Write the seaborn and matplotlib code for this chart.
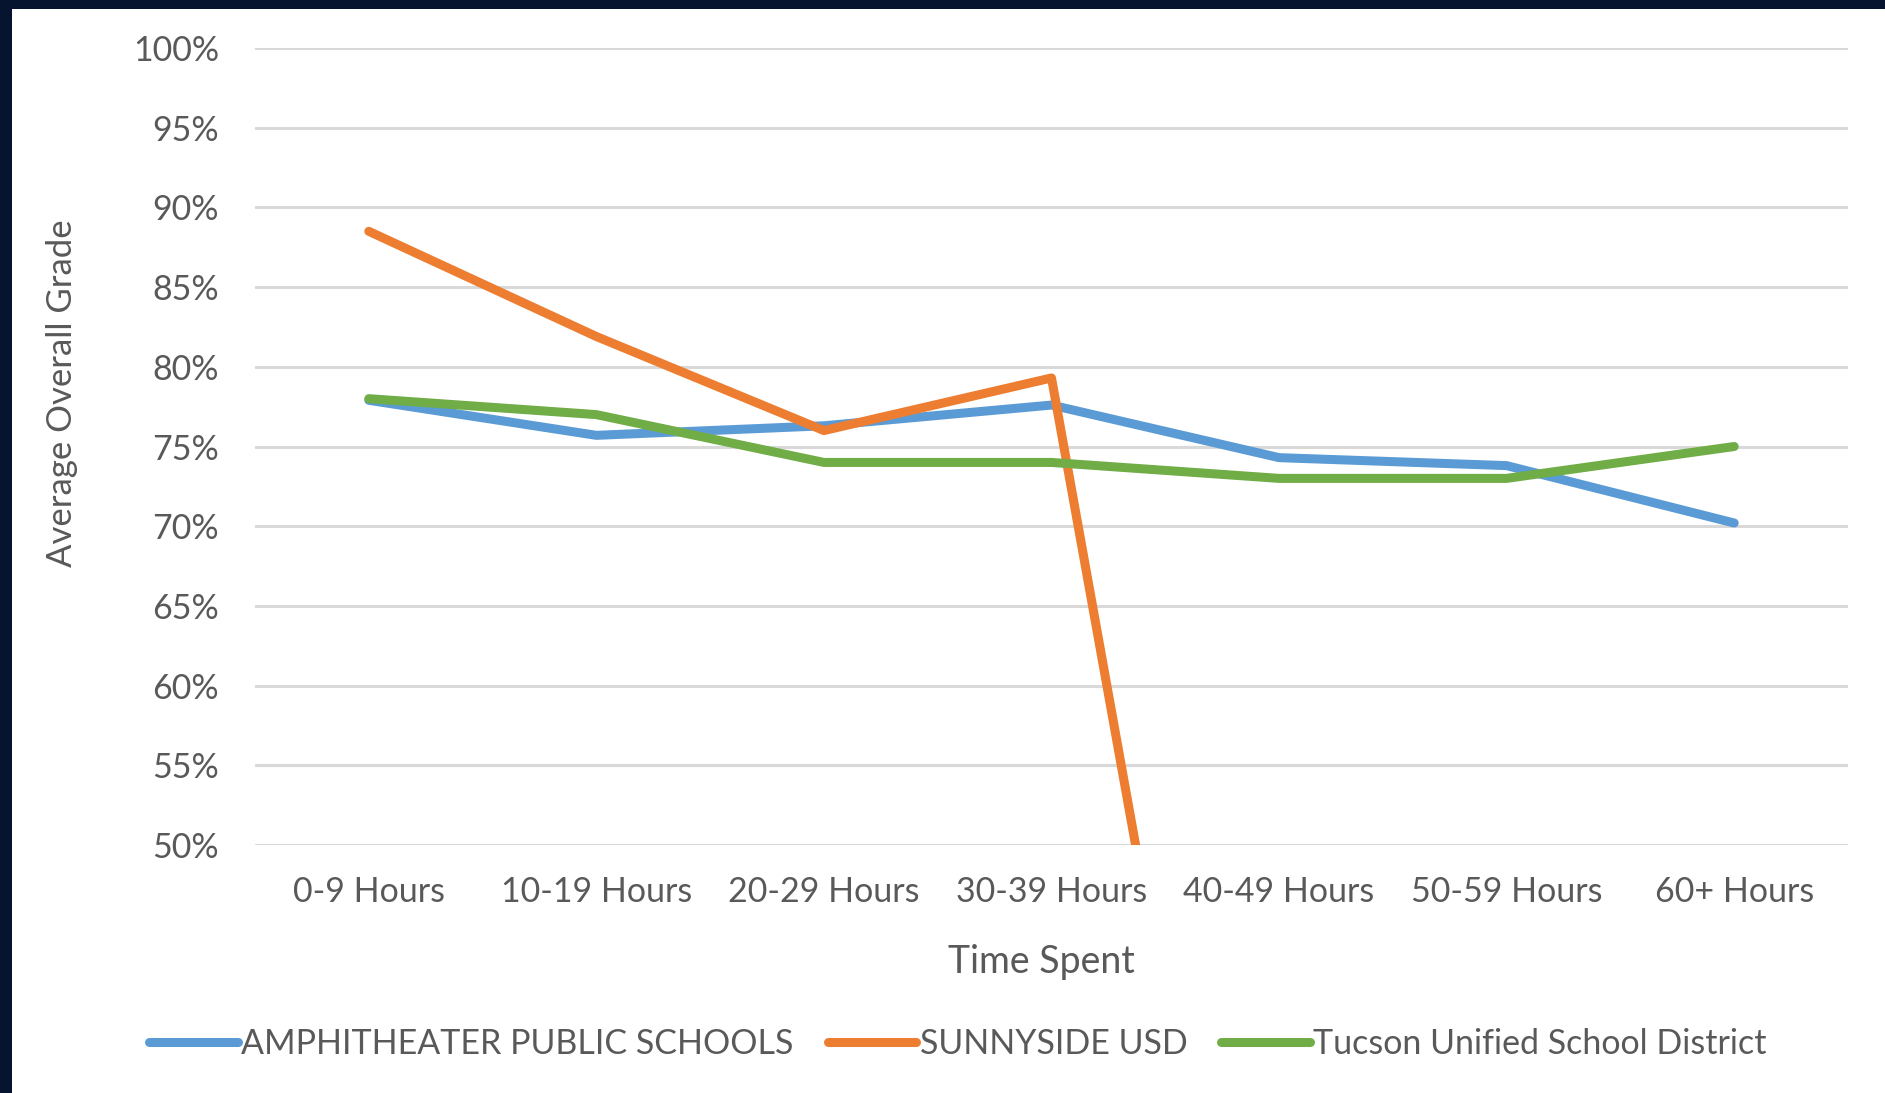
import pandas as pd
import numpy as np
import matplotlib
matplotlib.use("Agg")
import matplotlib.pyplot as plt
from matplotlib.patches import Rectangle
from matplotlib.ticker import PercentFormatter, MultipleLocator
import seaborn as sns

horas = ["0-9 Hours", "10-19 Hours", "20-29 Hours", "30-39 Hours",
         "40-49 Hours", "50-59 Hours", "60+ Hours"]
amphitheater = [77.9, 75.7, 76.3, 77.6, 74.3, 73.8, 70.2]
sunnyside = [88.5, 81.9, 76.0, 79.3, 0.0, np.nan, np.nan]
tucson = [78.0, 77.0, 74.0, 74.0, 73.0, 73.0, 75.0]
distritos = ["AMPHITHEATER PUBLIC SCHOOLS", "SUNNYSIDE USD", "Tucson Unified School District"]
cores = ["#5B9BD5", "#ED7D31", "#70AD47"]

df = pd.DataFrame({
    "tempo": horas * 3,
    "nota": amphitheater + sunnyside + tucson,
    "distrito": np.repeat(distritos, len(horas)),
})

sns.set_theme(style="white")
plt.rcParams["font.family"] = ["Lato", "DejaVu Sans"]
CINZA = "#595959"

fig = plt.figure(figsize=(18.85, 10.93), dpi=100)
fig.patch.set_facecolor("#071430")
# fundo branco do slide
fig.patches.append(Rectangle((12 / 1885, 0), 1, 1 - 9 / 1093, transform=fig.transFigure,
                             facecolor="white", edgecolor="none", zorder=-1))

ax = fig.add_axes([255 / 1885, 1 - 845 / 1093, (1848 - 255) / 1885, (845 - 48) / 1093])
ax.set_facecolor("white")
ax.set_axisbelow(True)

sns.lineplot(data=df, x="tempo", y="nota", hue="distrito", palette=dict(zip(distritos, cores)),
             linewidth=6.5, sort=False, legend=False, ax=ax,
             solid_capstyle="round", solid_joinstyle="round")

ax.set_ylim(50, 100)
ax.set_xlim(-0.5, len(horas) - 0.5)
ax.yaxis.set_major_locator(MultipleLocator(5))
ax.yaxis.set_major_formatter(PercentFormatter(decimals=0))
ax.grid(axis="y", color="#D9D9D9", linewidth=2.2)
ax.grid(axis="x", visible=False)
for s in ax.spines.values():
    s.set_visible(False)
ax.tick_params(axis="both", length=0, labelsize=24.5, labelcolor=CINZA)
ax.tick_params(axis="y", pad=26)
ax.tick_params(axis="x", pad=22)
ax.set_xlabel("")
ax.set_ylabel("")

fig.text(62 / 1885, 1 - 393 / 1093, "Average Overall Grade", rotation=90,
         ha="center", va="center", fontsize=25, color=CINZA)
fig.text(1041 / 1885, 1 - 962 / 1093, "Time Spent", ha="center", va="center",
         fontsize=27, color=CINZA)

handles = [plt.Line2D([], [], color=c, linewidth=6.5, solid_capstyle="round") for c in cores]
fig.legend(handles, distritos, loc="center", bbox_to_anchor=(958 / 1885, 1 - 1044 / 1093),
           ncol=3, frameon=False, fontsize=24.5, labelcolor=CINZA, handlelength=2.6,
           handletextpad=0.1, columnspacing=1.0)

fig.savefig("out.png", dpi=100, facecolor=fig.get_facecolor())
